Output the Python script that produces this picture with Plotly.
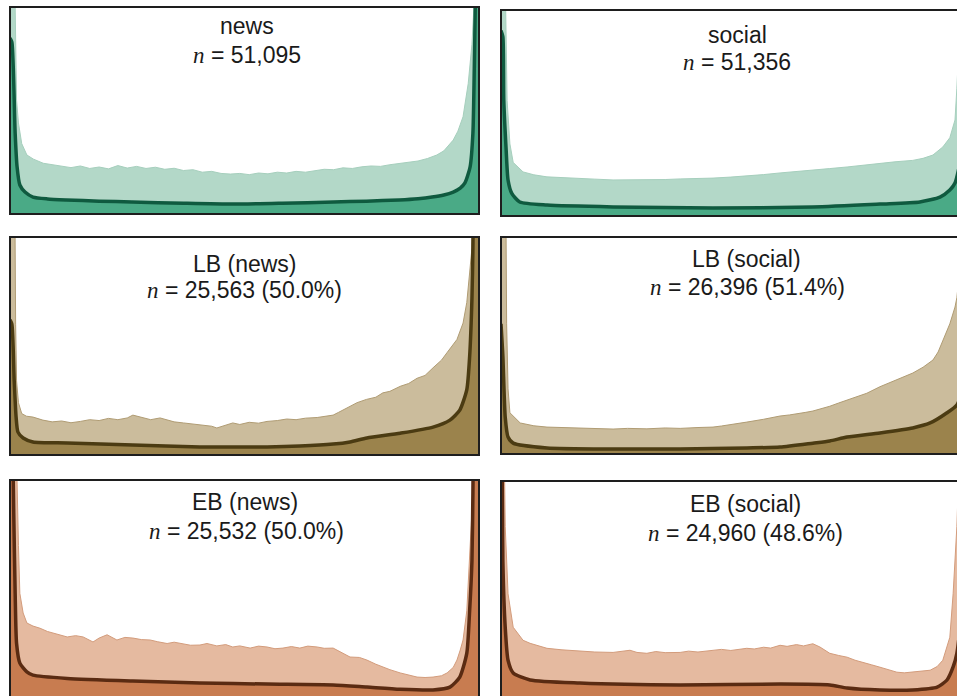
import plotly.graph_objects as go

# ---------------- data (values in % of panel height; >100 = off the top) ----------------
news_hist_x = [0.0, 0.008, 0.011, 0.014, 0.018, 0.025, 0.036, 0.05, 0.071, 0.09, 0.11, 0.13, 0.15, 0.17, 0.19,
               0.21, 0.23, 0.25, 0.27, 0.29, 0.31, 0.33, 0.35, 0.37, 0.39, 0.41, 0.43, 0.45, 0.47, 0.49, 0.51,
               0.53, 0.55, 0.57, 0.59, 0.61, 0.63, 0.65, 0.67, 0.69, 0.71, 0.73, 0.75, 0.77, 0.79, 0.81, 0.83,
               0.85, 0.87, 0.89, 0.91, 0.925, 0.945, 0.955, 0.966, 0.977, 0.985, 0.988, 0.992, 1.0]
news_hist_y = [150, 130, 100, 55, 44, 34, 28.5, 26.5, 24.5, 23.8, 23.0, 22.4, 23.2, 22.0, 22.7,
               21.8, 23.4, 22.2, 23.0, 22.0, 22.6, 21.6, 22.1, 21.0, 21.4, 20.2, 20.6, 19.6, 19.3, 19.6, 19.0,
               19.8, 19.4, 20.2, 19.8, 20.6, 20.2, 21.0, 21.6, 21.4, 22.3, 22.0, 22.8, 23.2, 23.0, 23.8, 24.4,
               24.8, 25.6, 26.8, 28.5, 30.5, 35.7, 40, 47, 63, 82, 95, 130, 150]
news_kde_x = [0.0, 0.004, 0.011, 0.015, 0.021, 0.032, 0.049, 0.08, 0.12, 0.19, 0.26, 0.37, 0.475, 0.58, 0.69,
              0.76, 0.83, 0.87, 0.90, 0.925, 0.945, 0.96, 0.97, 0.981, 0.987, 0.99, 0.992, 0.995, 1.0]
news_kde_y = [85, 83, 39, 23, 14, 10.6, 8.2, 7.3, 6.8, 6.2, 5.8, 5.2, 4.8, 5.2, 5.8,
              6.2, 6.8, 7.4, 8.2, 9.2, 10.6, 12.5, 15, 22.7, 39, 71, 100, 150, 200]

social_hist_x = [0.0, 0.008, 0.01, 0.013, 0.019, 0.026, 0.047, 0.07, 0.098, 0.13, 0.168, 0.2, 0.239, 0.27, 0.311,
                 0.35, 0.382, 0.42, 0.452, 0.49, 0.524, 0.56, 0.595, 0.63, 0.665, 0.70, 0.738, 0.77, 0.808,
                 0.84, 0.878, 0.9, 0.921, 0.942, 0.957, 0.968, 0.972, 0.98, 0.99, 1.0]
social_hist_y = [150, 130, 100, 56, 35, 26, 21.4, 20.0, 19.0, 18.6, 18.0, 17.9, 17.5, 17.6, 17.4,
                 17.7, 18.0, 18.1, 18.4, 18.9, 19.4, 20.1, 20.9, 21.5, 22.3, 23.0, 23.8, 24.6, 25.7,
                 26.3, 27.0, 28.0, 29.6, 33.5, 38, 46.6, 62, 90, 150, 200]
social_kde_x = [0.0, 0.004, 0.006, 0.011, 0.015, 0.023, 0.04, 0.098, 0.239, 0.452, 0.665, 0.808, 0.893, 0.936,
                0.957, 0.968, 0.98, 0.99, 0.995, 1.0]
social_kde_y = [90, 87, 56, 32, 17.5, 11, 6.8, 5.3, 4.4, 3.9, 4.4, 5.8, 6.8, 9.2,
                12.6, 16, 28, 70, 150, 200]

lb_news_hist_x = [0.0, 0.01, 0.012, 0.014, 0.018, 0.025, 0.035, 0.049, 0.07, 0.09, 0.11, 0.13, 0.15, 0.17, 0.19,
                  0.21, 0.23, 0.25, 0.262, 0.28, 0.30, 0.32, 0.335, 0.35, 0.37, 0.39, 0.41, 0.43, 0.441, 0.46,
                  0.475, 0.49, 0.51, 0.53, 0.548, 0.57, 0.59, 0.61, 0.63, 0.655, 0.67, 0.689, 0.70, 0.71, 0.725,
                  0.74, 0.76, 0.78, 0.795, 0.81, 0.832, 0.85, 0.868, 0.885, 0.902, 0.92, 0.932, 0.953, 0.966,
                  0.974, 0.98, 0.985, 0.99, 1.0]
lb_news_hist_y = [150, 130, 60, 34, 24, 19, 17.8, 17.4, 16.0, 15.2, 15.6, 14.8, 15.4, 16.2, 15.8,
                  16.8, 16.2, 17.0, 18.3, 17.2, 16.2, 17.0, 16.0, 15.2, 14.7, 14.2, 13.8, 13.2, 12.4, 13.6,
                  14.7, 14.0, 15.0, 14.6, 15.4, 15.8, 16.5, 16.2, 16.9, 17.2, 17.8, 18.3, 19.5, 20.6, 22.5,
                  24.0, 25.5, 26.5, 28.5, 29.2, 31.5, 32.8, 35.2, 36.5, 40, 43.5, 47, 53, 60.5,
                  70, 83.5, 95, 130, 150]
lb_news_kde_x = [0.0, 0.004, 0.009, 0.013, 0.017, 0.028, 0.049, 0.122, 0.262, 0.405, 0.475, 0.548, 0.618, 0.689,
                 0.725, 0.761, 0.832, 0.902, 0.938, 0.959, 0.974, 0.98, 0.985, 0.987, 0.99, 1.0]
lb_news_kde_y = [62, 60, 34, 17.4, 10.5, 7.8, 6.0, 5.5, 4.6, 3.7, 3.7, 3.7, 4.1, 5.0,
                 6.0, 7.8, 10.0, 12.8, 16, 20.6, 30, 45, 72, 95, 150, 200]

lb_social_hist_x = [0.0, 0.01, 0.012, 0.015, 0.019, 0.041, 0.07, 0.098, 0.13, 0.168, 0.2, 0.239, 0.27, 0.311,
                    0.35, 0.382, 0.42, 0.452, 0.47, 0.488, 0.505, 0.524, 0.56, 0.595, 0.615, 0.631, 0.65,
                    0.665, 0.685, 0.701, 0.72, 0.738, 0.76, 0.78, 0.808, 0.825, 0.844, 0.86, 0.878, 0.9,
                    0.921, 0.932, 0.942, 0.957, 0.968, 0.972, 0.985, 1.0]
lb_social_hist_y = [150, 130, 60, 30, 19, 14.3, 13.0, 12.4, 12.2, 12.0, 11.7, 11.5, 11.8, 11.6,
                    12.0, 11.8, 12.2, 12.4, 12.9, 13.4, 14.0, 14.7, 16.0, 17.5, 18.0, 18.4, 19.2,
                    19.8, 21.0, 22.0, 23.5, 24.8, 26.5, 28.0, 31.0, 32.5, 34.0, 35.5, 37.3, 40.0,
                    43.3, 47, 52.5, 60, 67.7, 72, 100, 150]
lb_social_kde_x = [0.0, 0.004, 0.009, 0.015, 0.026, 0.098, 0.239, 0.382, 0.524, 0.595, 0.665, 0.701, 0.738,
                   0.808, 0.878, 0.915, 0.951, 0.972, 0.985, 1.0]
lb_social_kde_y = [60, 45, 17, 7.8, 5.0, 2.8, 2.3, 2.3, 2.8, 3.2, 5.0, 6.0, 7.8,
                   9.7, 12.0, 14.3, 19.0, 22.6, 30, 45]

eb_news_hist_x = [0.0, 0.015, 0.018, 0.021, 0.028, 0.036, 0.049, 0.064, 0.08, 0.092, 0.107, 0.122, 0.14, 0.156,
                  0.177, 0.19, 0.207, 0.228, 0.245, 0.262, 0.28, 0.299, 0.315, 0.335, 0.35, 0.369, 0.385, 0.405,
                  0.42, 0.441, 0.46, 0.475, 0.49, 0.512, 0.53, 0.548, 0.565, 0.582, 0.60, 0.618, 0.635, 0.655,
                  0.67, 0.689, 0.705, 0.725, 0.745, 0.761, 0.78, 0.795, 0.81, 0.832, 0.85, 0.868, 0.885, 0.902,
                  0.92, 0.932, 0.945, 0.953, 0.96, 0.966, 0.974, 0.98, 0.987, 0.99, 1.0]
eb_news_hist_y = [150, 100, 70, 48, 39, 34.4, 33, 32, 30.5, 29.8, 29.0, 28.0, 28.6, 28.0,
                  25.7, 27.5, 29.0, 26.6, 27.8, 27.5, 26.8, 26.6, 25.8, 25.0, 25.6, 25.0, 24.2, 24.3,
                  25.0, 23.9, 24.5, 23.4, 23.9, 22.9, 23.8, 23.4, 22.6, 22.9, 23.6, 22.9, 23.8, 23.4,
                  22.8, 22.9, 21.0, 18.8, 18.6, 17.4, 15.5, 14.2, 13.0, 11.5, 10.4, 9.6, 9.4, 9.6,
                  10.2, 11.5, 14.0, 17.4, 22.0, 26.6, 40, 63, 94, 130, 150]
eb_news_kde_x = [0.0, 0.005, 0.008, 0.011, 0.014, 0.021, 0.036, 0.049, 0.122, 0.262, 0.405, 0.548, 0.689, 0.761,
                 0.832, 0.902, 0.938, 0.959, 0.974, 0.98, 0.985, 0.987, 0.99, 1.0]
eb_news_kde_y = [200, 130, 85, 48, 25, 16, 12, 10.5, 9.0, 7.8, 6.9, 6.4, 6.0, 5.0,
                 4.0, 3.7, 5.0, 9.6, 20.6, 40, 63, 94, 150, 200]

eb_social_hist_x = [0.0, 0.006, 0.009, 0.015, 0.026, 0.047, 0.062, 0.077, 0.098, 0.13, 0.168, 0.2, 0.239, 0.26,
                    0.275, 0.29, 0.311, 0.33, 0.35, 0.382, 0.40, 0.42, 0.452, 0.47, 0.49, 0.524, 0.54, 0.56,
                    0.575, 0.595, 0.61, 0.63, 0.645, 0.665, 0.68, 0.701, 0.72, 0.738, 0.755, 0.772, 0.79,
                    0.808, 0.826, 0.844, 0.86, 0.878, 0.895, 0.915, 0.93, 0.942, 0.957, 0.964, 0.972, 0.98, 1.0]
eb_social_hist_y = [150, 130, 79, 48, 32.6, 26.6, 25.2, 24.3, 22.9, 22.2, 21.6, 21.2, 21.0, 21.6,
                    22.0, 21.0, 20.6, 21.4, 20.9, 21.0, 21.6, 21.2, 22.0, 22.4, 21.9, 22.9, 22.6, 23.4,
                    23.0, 24.3, 23.8, 24.6, 24.0, 25.0, 23.5, 20.6, 19.6, 18.8, 17.4, 16.5, 15.3,
                    14.2, 13.0, 11.9, 11.6, 11.9, 12.2, 12.8, 14.5, 17.4, 28, 48, 79, 130, 150]
eb_social_kde_x = [0.0, 0.002, 0.004, 0.009, 0.015, 0.026, 0.062, 0.168, 0.382, 0.595, 0.701, 0.738, 0.808,
                   0.878, 0.93, 0.951, 0.964, 0.972, 0.985, 1.0]
eb_social_kde_y = [200, 130, 63, 32.6, 17.4, 11.5, 8.3, 6.9, 6.0, 6.4, 6.0, 4.6, 3.7,
                   3.7, 5.0, 8.3, 14.3, 20.6, 50, 120]

titles = ["news", "social", "LB (news)", "LB (social)", "EB (news)", "EB (social)"]
counts = ["51,095", "51,356", "25,563 (50.0%)", "26,396 (51.4%)", "25,532 (50.0%)", "24,960 (48.6%)"]

# ---------------- styling ----------------
W, H = 957, 696
GREEN = dict(light="#b3d8c8", edge="#a6cfbd", mid="#4aaa86", dark="#0f5a3f")
BROWN = dict(light="#cbbc9c", edge="#b09c74", mid="#9b834c", dark="#4b3b12")
ORANGE = dict(light="#e5baa0", edge="#d39c7c", mid="#c87c50", dark="#5a2b12")

# panel pixel boxes: left, right(full, may be off-canvas), top, bottom
panels = [
    dict(hx=news_hist_x, hy=news_hist_y, kx=news_kde_x, ky=news_kde_y, c=GREEN, box=(10, 479, 7, 214),
         t1=(247, 26.5), t2=(247, 55)),
    dict(hx=social_hist_x, hy=social_hist_y, kx=social_kde_x, ky=social_kde_y, c=GREEN, box=(501, 970, 10, 216),
         t1=(737, 35), t2=(737, 62.5)),
    dict(hx=lb_news_hist_x, hy=lb_news_hist_y, kx=lb_news_kde_x, ky=lb_news_kde_y, c=BROWN, box=(10, 479, 237, 455),
         t1=(244.5, 264), t2=(245, 290)),
    dict(hx=lb_social_hist_x, hy=lb_social_hist_y, kx=lb_social_kde_x, ky=lb_social_kde_y, c=BROWN,
         box=(501, 970, 237, 454), t1=(746, 259), t2=(747, 287)),
    dict(hx=eb_news_hist_x, hy=eb_news_hist_y, kx=eb_news_kde_x, ky=eb_news_kde_y, c=ORANGE, box=(10, 479, 480, 698),
         t1=(245, 502.5), t2=(246, 531)),
    dict(hx=eb_social_hist_x, hy=eb_social_hist_y, kx=eb_social_kde_x, ky=eb_social_kde_y, c=ORANGE,
         box=(501, 970, 481, 698), t1=(745, 504), t2=(745, 533)),
]

fig = go.Figure()
layout = dict(width=W, height=H, margin=dict(l=0, r=0, t=0, b=0), paper_bgcolor="white",
              plot_bgcolor="white", showlegend=False, shapes=[], annotations=[])

SANS = "Liberation Sans, Arial, sans-serif"
FS = 23
for i, p in enumerate(panels):
    k = i + 1
    xa = "x" if k == 1 else f"x{k}"
    ya = "y" if k == 1 else f"y{k}"
    L, R, T, B = p["box"]
    vis_r = min(R, W)
    vis_b = min(B, H)
    xr = [0, (vis_r - L) / (R - L)]
    yr = [(B - vis_b) / (B - T) * 100, 100]
    layout["xaxis" if k == 1 else f"xaxis{k}"] = dict(
        domain=[L / W, vis_r / W], range=xr, anchor=ya, visible=False, fixedrange=True)
    layout["yaxis" if k == 1 else f"yaxis{k}"] = dict(
        domain=[1 - vis_b / H, 1 - T / H], range=yr, anchor=xa, visible=False, fixedrange=True)
    c = p["c"]
    fig.add_trace(go.Scatter(x=p["hx"], y=p["hy"], xaxis=xa, yaxis=ya, mode="lines",
                             line=dict(color=c["edge"], width=1), fill="tozeroy", fillcolor=c["light"],
                             hoverinfo="skip"))
    fig.add_trace(go.Scatter(x=p["kx"], y=p["ky"], xaxis=xa, yaxis=ya, mode="lines",
                             line=dict(color=c["dark"], width=3.5, shape="spline", smoothing=0.6),
                             fill="tozeroy", fillcolor=c["mid"], hoverinfo="skip"))
    layout["shapes"].append(dict(type="rect", xref="paper", yref="paper", layer="above",
                                 x0=L / W, x1=R / W, y0=1 - B / H, y1=1 - T / H,
                                 line=dict(color="#1e1e1e", width=2)))
    layout["annotations"].append(dict(xref="paper", yref="paper", x=p["t1"][0] / W, y=1 - p["t1"][1] / H,
                                      xanchor="center", yanchor="middle", showarrow=False, text=titles[i],
                                      font=dict(family=SANS, size=FS, color="#1a1a1a")))
    layout["annotations"].append(dict(xref="paper", yref="paper", x=p["t2"][0] / W, y=1 - p["t2"][1] / H,
                                      xanchor="center", yanchor="middle", showarrow=False,
                                      text='<span style="font-family:Liberation Serif">'
                                           '<i>n</i></span> = ' + counts[i],
                                      font=dict(family=SANS, size=FS, color="#1a1a1a")))

fig.update_layout(**layout)
fig.write_html("out.html", config={"displayModeBar": False, "staticPlot": True},
               post_script="document.body.style.margin='0px';document.body.style.overflow='hidden';")
